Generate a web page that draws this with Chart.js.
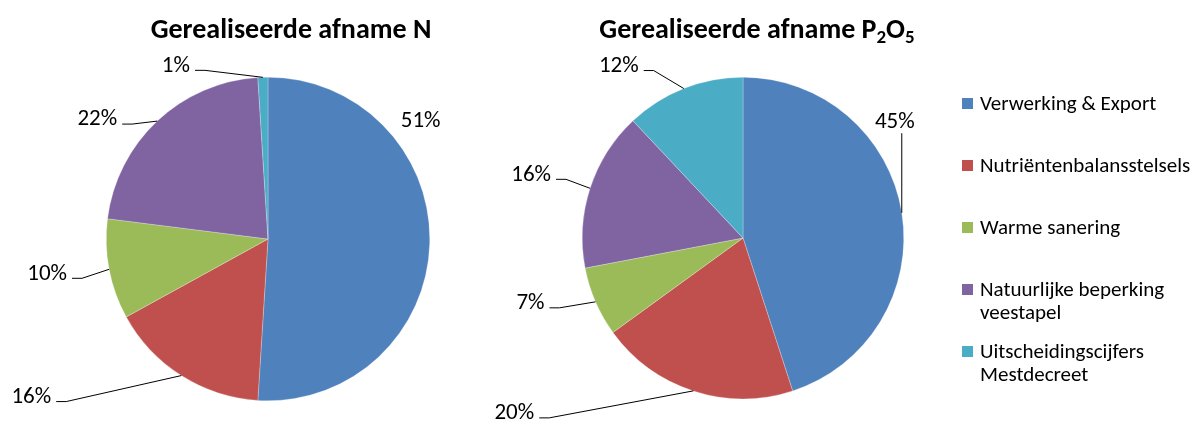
<!DOCTYPE html>
<html>
<head>
<meta charset="utf-8">
<script src="https://cdn.jsdelivr.net/npm/chart.js@4.4.1/dist/chart.umd.min.js"></script>
<style>
html, body { margin: 0; padding: 0; background: #fff; }
#wrap { position: relative; width: 1202px; height: 422px; }
#wrap canvas { position: absolute; left: 0; top: 0; }
</style>
</head>
<body>
<div id="wrap">
  <canvas id="pieN" width="1202" height="422"></canvas>
  <canvas id="pieP" width="1202" height="422"></canvas>
</div>
<script>
var categories = ["Verwerking & Export", "Nutriëntenbalansstelsels", "Warme sanering", "Natuurlijke beperking\nveestapel", "Uitscheidingscijfers\nMestdecreet"];
var valuesN = [51, 16, 10, 22, 1];
var valuesP = [45, 20, 7, 16, 12];
var colors = ["#4F81BD", "#C0504D", "#9BBB59", "#8064A2", "#4BACC6"];

var FONT = "Carlito, Lato, sans-serif";

// draws title, percentage labels with leader lines and (optionally) the legend
var pieText = {
    id: 'pieText',
    afterDatasetsDraw: function (chart, args, opts) {
        var ctx = chart.ctx;
        var data = chart.data.datasets[0].data;
        var total = data.reduce(function (a, b) { return a + b; }, 0);
        ctx.save();
        ctx.fillStyle = '#000';
        ctx.strokeStyle = '#000';
        ctx.lineWidth = 1;
        ctx.textBaseline = 'alphabetic';

        // title with optional subscripts
        var tsize = 28, ssize = 19;
        var tw = 0;
        opts.title.forEach(function (p) {
            ctx.font = 'bold ' + (p.sub ? ssize : tsize) + 'px ' + FONT;
            p.w = ctx.measureText(p.t).width;
            tw += p.w;
        });
        var x = opts.titleX - tw / 2;
        opts.title.forEach(function (p) {
            ctx.font = 'bold ' + (p.sub ? ssize : tsize) + 'px ' + FONT;
            ctx.fillText(p.t, x, p.sub ? 43 : 38);
            x += p.w;
        });

        // percentage labels
        var size = 23;
        ctx.font = size + 'px ' + FONT;
        ctx.textAlign = 'center';
        chart.getDatasetMeta(0).data.forEach(function (arc, i) {
            var p = arc.getProps(['x', 'y', 'startAngle', 'endAngle', 'outerRadius'], true);
            var mid = (p.startAngle + p.endAngle) / 2;
            var ax = p.x + p.outerRadius * Math.cos(mid);
            var ay = p.y + p.outerRadius * Math.sin(mid);
            var txt = Math.round(data[i] / total * 100) + '%';
            var tx = ax + opts.offsets[i][0];
            var ty = ay + opts.offsets[i][1];
            var w = ctx.measureText(txt).width;
            ctx.fillText(txt, tx, ty + size * 0.32);
            var kind = opts.lines[i];
            ctx.beginPath();
            if (kind === 'side') {
                var sx = tx + w / 2 + 5, sy = ty + 6;
                ctx.moveTo(sx, sy);
                ctx.lineTo(sx + 10, sy);
                ctx.lineTo(ax, ay);
                ctx.stroke();
            } else if (kind === 'down') {
                ctx.moveTo(ax, ty + size * 0.32 + 5);
                ctx.lineTo(ax, ay);
                ctx.stroke();
            }
        });

        // legend
        if (opts.legend) {
            var lsize = 21;
            ctx.font = lsize + 'px ' + FONT;
            ctx.textAlign = 'left';
            categories.forEach(function (c, i) {
                var cy = 103 + i * 62;
                ctx.fillStyle = colors[i];
                ctx.fillRect(962, cy - 5, 11, 11);
                ctx.fillStyle = '#000';
                c.split('\n').forEach(function (line, j) {
                    ctx.fillText(line, 980, cy + j * 23 + lsize * 0.32);
                });
            });
        }
        ctx.restore();
    }
};

function makePie(id, values, pad, textOpts) {
    return new Chart(document.getElementById(id), {
        type: 'pie',
        data: {
            labels: categories,
            datasets: [{
                data: values,
                backgroundColor: colors,
                borderColor: 'rgba(255,255,255,0.5)',
                borderWidth: 0.5
            }]
        },
        options: {
            responsive: false,
            animation: false,
            layout: { padding: pad },
            plugins: {
                legend: { display: false },
                tooltip: { enabled: false },
                pieText: textOpts
            }
        },
        plugins: [pieText]
    });
}

var chartN = makePie('pieN', valuesN,
    { left: 106, right: 772, top: 77, bottom: 21 },
    {
        titleX: 291,
        title: [{ t: 'Gerealiseerde afname N' }],
        offsets: [[-9, -124], [-150, 20], [-62, 3], [-60, -3], [-87, -13]],
        lines: ['none', 'side', 'side', 'side', 'side'],
        legend: false
    });

var chartP = makePie('pieP', valuesP,
    { left: 582, right: 298, top: 77, bottom: 23 },
    {
        titleX: 757,
        title: [{ t: 'Gerealiseerde afname P' }, { t: '2', sub: true }, { t: 'O' }, { t: '5', sub: true }],
        offsets: [[-7, -92], [-179, 21], [-65, 0], [-59, -15], [-65, -24]],
        lines: ['down', 'side', 'side', 'side', 'side'],
        legend: true
    });
</script>
</body>
</html>
